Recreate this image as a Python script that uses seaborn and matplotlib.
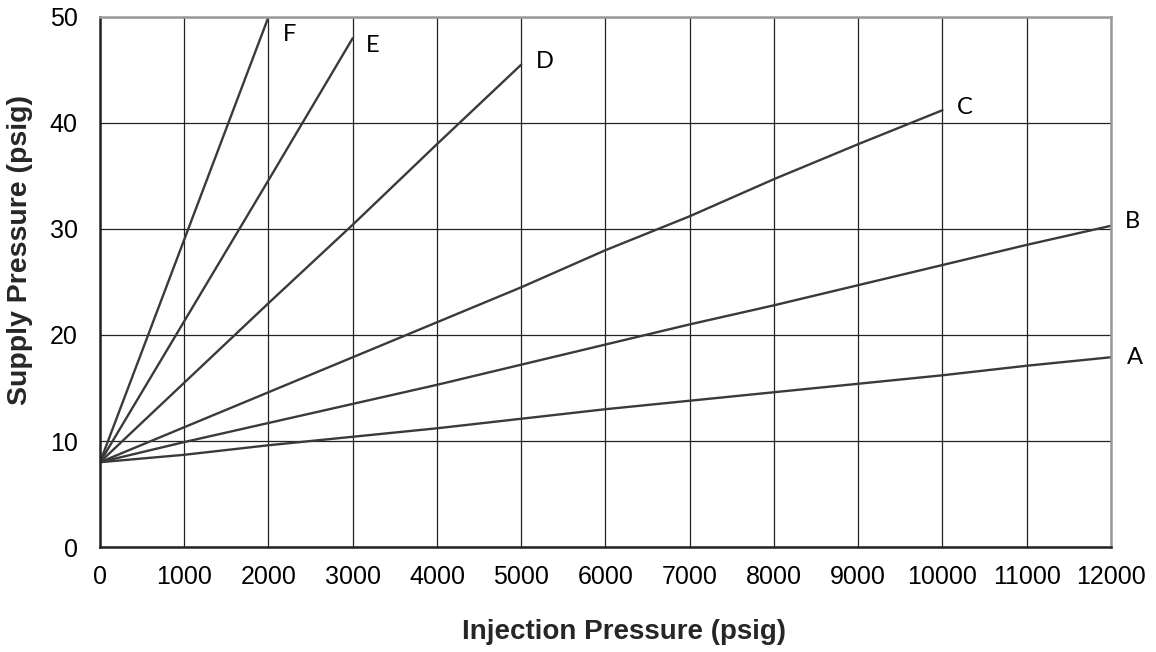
import pandas as pd
import seaborn as sns
import matplotlib.pyplot as plt

# curves (injection psig -> supply psig)
x_a = [0, 1000, 2000, 3000, 4000, 5000, 6000, 7000, 8000, 9000, 10000, 11000, 12000]
y_a = [8, 8.7, 9.6, 10.4, 11.2, 12.1, 13.0, 13.8, 14.6, 15.4, 16.2, 17.1, 17.9]
x_b = [0, 1000, 2000, 3000, 4000, 5000, 6000, 7000, 8000, 9000, 10000, 11000, 12000]
y_b = [8, 9.9, 11.7, 13.5, 15.3, 17.2, 19.1, 21.0, 22.8, 24.7, 26.6, 28.5, 30.3]
x_c = [0, 1000, 2000, 3000, 4000, 5000, 6000, 7000, 8000, 9000, 10000]
y_c = [8, 11.3, 14.6, 17.9, 21.2, 24.5, 28.0, 31.2, 34.7, 38.0, 41.2]
x_d = [0, 1000, 2000, 3000, 4000, 5000]
y_d = [8, 15.5, 23.0, 30.4, 38.0, 45.5]
x_e = [0, 1000, 2000, 3000]
y_e = [8, 21.3, 34.6, 48.0]
x_f = [0, 1000, 2000]
y_f = [8, 29.0, 50.0]

curve_names = ['A', 'B', 'C', 'D', 'E', 'F']
# label anchor points for the curve letters
label_x = [12280, 12260, 10270, 5280, 3240, 2250]
label_y = [17.9, 30.7, 41.5, 45.8, 47.3, 48.3]

frames = []
for name, xs, ys in zip(curve_names,
                        [x_a, x_b, x_c, x_d, x_e, x_f],
                        [y_a, y_b, y_c, y_d, y_e, y_f]):
    frames.append(pd.DataFrame({'inj': xs, 'sup': ys, 'curve': name}))
df = pd.concat(frames, ignore_index=True)

sns.set_style('white')
plt.rcParams['font.family'] = ['Liberation Sans', 'DejaVu Sans']

fig = plt.figure(figsize=(11.56, 6.52), dpi=100)
ax = fig.add_axes([0.0865, 0.161, 0.8745, 0.813])

sns.lineplot(data=df, x='inj', y='sup', hue='curve',
             palette={n: '#3a3a3a' for n in curve_names},
             linewidth=1.7, legend=False, sort=False, ax=ax)

for n, lx, ly in zip(curve_names, label_x, label_y):
    ax.text(lx, ly, n, ha='center', va='center', fontsize=17,
            family=['Lato', 'DejaVu Sans'], color='black')

ax.set_xlim(0, 12000)
ax.set_ylim(0, 50)
ax.set_xticks(range(0, 12001, 1000))
ax.set_yticks(range(0, 51, 10))
ax.grid(True, color='#222222', linewidth=0.9)
ax.tick_params(axis='both', length=0, labelsize=18, colors='black')
ax.tick_params(axis='x', pad=13)
ax.tick_params(axis='y', pad=16)

for side in ['left', 'bottom']:
    ax.spines[side].set_color('#222222')
    ax.spines[side].set_linewidth(1.8)
for side in ['top', 'right']:
    ax.spines[side].set_color('#999999')
    ax.spines[side].set_linewidth(1.8)

ax.set_xlabel('Injection Pressure (psig)', fontsize=20, fontweight='bold', va='center')
ax.set_ylabel('Supply Pressure (psig)', fontsize=20.5, fontweight='bold', va='center')
ax.xaxis.set_label_coords(0.518, -0.16)
ax.yaxis.set_label_coords(-0.079, 0.56)

fig.savefig('out.png', dpi=100)
